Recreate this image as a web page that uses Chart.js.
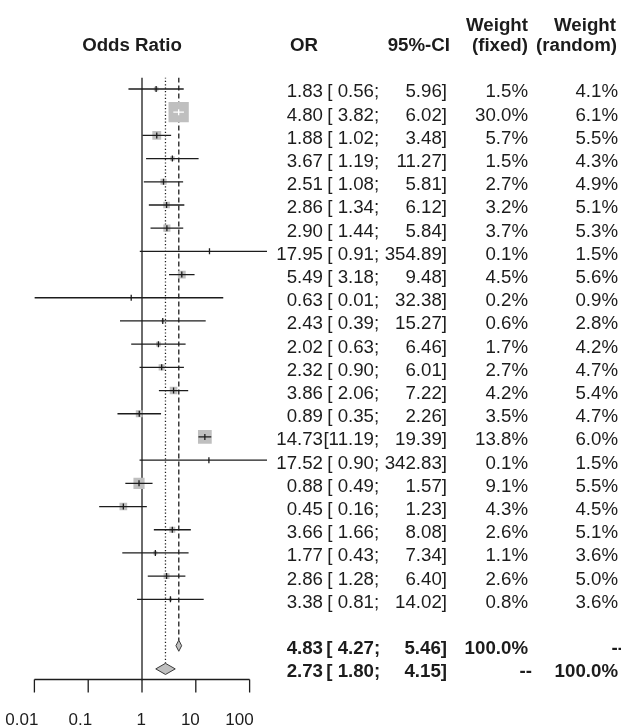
<!DOCTYPE html>
<html>
<head>
<meta charset="utf-8">
<script src="https://cdn.jsdelivr.net/npm/chart.js@4.4.1/dist/chart.umd.min.js"></script>
<style>
  html, body { margin: 0; padding: 0; background: #fff; }
</style>
</head>
<body>
<canvas id="forest" width="621" height="726"></canvas>
<script>
// one entry per study, top to bottom
const studyOR = [1.83, 4.80, 1.88, 3.67, 2.51, 2.86, 2.90, 17.95, 5.49, 0.63, 2.43, 2.02,
  2.32, 3.86, 0.89, 14.73, 17.52, 0.88, 0.45, 3.66, 1.77, 2.86, 3.38]
const ciLower = [0.56, 3.82, 1.02, 1.19, 1.08, 1.34, 1.44, 0.91, 3.18, 0.01, 0.39, 0.63,
  0.90, 2.06, 0.35, 11.19, 0.90, 0.49, 0.16, 1.66, 0.43, 1.28, 0.81]
const ciUpper = [5.96, 6.02, 3.48, 11.27, 5.81, 6.12, 5.84, 354.89, 9.48, 32.38, 15.27, 6.46,
  6.01, 7.22, 2.26, 19.39, 342.83, 1.57, 1.23, 8.08, 7.34, 6.40, 14.02]
const weightFixed = [1.5, 30.0, 5.7, 1.5, 2.7, 3.2, 3.7, 0.1, 4.5, 0.2, 0.6, 1.7,
  2.7, 4.2, 3.5, 13.8, 0.1, 9.1, 4.3, 2.6, 1.1, 2.6, 0.8]
const weightRandom = [4.1, 6.1, 5.5, 4.3, 4.9, 5.1, 5.3, 1.5, 5.6, 0.9, 2.8, 4.2,
  4.7, 5.4, 4.7, 6.0, 1.5, 5.5, 4.5, 5.1, 3.6, 5.0, 3.6]

// pooled estimates: [OR, lower, upper]
const fixedEffect = [4.83, 4.27, 5.46]
const randomEffect = [2.73, 1.80, 4.15]

const xTicks = [0.01, 0.1, 1, 10, 100]
const xTickLabels = ['0.01', '0.1', '1', '10', '100']

const ROW_FIXED = studyOR.length + 1
const ROW_RANDOM = studyOR.length + 2
const DIAMOND_H = 0.24
const FONT = '"Liberation Sans", Arial, Helvetica, sans-serif'
const FONT_SIZE = 18.7
const INK = '#1c1c1c'
const BOX = '#bfbfbf'

const boxSide = w => Math.sqrt(w) * 3.7

// CI line turns white when it sits well inside its own box
function ciColor(chart, i) {
  const x = chart.scales.x
  if (!x) return INK
  const c = x.getPixelForValue(studyOR[i])
  const half = boxSide(weightFixed[i]) / 2 - 1
  const inside = x.getPixelForValue(ciLower[i]) >= c - half && x.getPixelForValue(ciUpper[i]) <= c + half
  return inside ? '#ffffff' : INK
}

const fmt = v => v.toFixed(2)
const loWidth = Math.max(...ciLower.map(v => fmt(v).length))
const pct = v => v.toFixed(1) + '%'

const refLine = (value, toRow, dash) => ({
  type: 'line',
  data: [{ x: value, y: -0.5 }, { x: value, y: toRow }],
  borderColor: INK,
  borderWidth: 1.3,
  borderDash: dash,
  pointRadius: 0,
  order: 6
})

const diamond = (est, row) => ({
  type: 'line',
  data: [
    { x: est[1], y: row }, { x: est[0], y: row - DIAMOND_H },
    { x: est[2], y: row }, { x: est[0], y: row + DIAMOND_H }, { x: est[1], y: row }
  ],
  borderColor: '#3a3a3a',
  borderWidth: 1,
  backgroundColor: BOX,
  fill: 'shape',
  pointRadius: 0,
  order: 3
})

const ciLines = studyOR.map((or, i) => ({
  type: 'line',
  data: [{ x: ciLower[i], y: i }, { x: ciUpper[i], y: i }],
  borderColor: ctx => ciColor(ctx.chart, i),
  borderWidth: 1.3,
  pointRadius: 0,
  order: 2
}))

const datasets = [
  refLine(1, ROW_RANDOM + 0.5, []),
  refLine(randomEffect[0], ROW_RANDOM - DIAMOND_H, [1.2, 2.2]),
  refLine(fixedEffect[0], ROW_FIXED - DIAMOND_H, [5, 3]),
  {
    type: 'scatter',
    data: studyOR.map((or, i) => ({ x: or, y: i })),
    pointStyle: 'rect',
    pointRadius: weightFixed.map(w => boxSide(w) / Math.SQRT2),
    backgroundColor: BOX,
    borderWidth: 0,
    order: 4
  },
  diamond(fixedEffect, ROW_FIXED),
  diamond(randomEffect, ROW_RANDOM),
  ...ciLines,
  {
    type: 'scatter',
    data: studyOR.map((or, i) => ({ x: or, y: i })),
    pointStyle: 'line',
    pointRotation: 90,
    pointRadius: 3,
    borderWidth: 1.3,
    borderColor: ctx => ciColor(ctx.chart, ctx.dataIndex),
    order: 1
  }
]

const textPlugin = {
  id: 'forestText',
  afterDraw(chart) {
    const { ctx, chartArea } = chart
    const x = chart.scales.x
    const y = chart.scales.y
    const put = (str, px, py, align, bold, size) => {
      ctx.font = (bold ? 'bold ' : '') + (size || FONT_SIZE) + 'px ' + FONT
      ctx.textAlign = align
      ctx.fillText(str, px, py)
    }
    // OR, then "[lower;" and "upper]" as two right-aligned pieces
    const row = (vals, py, bold) => {
      put(fmt(vals[0]), 323, py, 'right', bold)
      put('[' + fmt(vals[1]).padStart(loWidth, ' '), 374, py, 'right', bold)
      put(';', 374, py, 'left', bold)
      put(fmt(vals[2]) + ']', 447, py, 'right', bold)
    }
    ctx.save()
    ctx.fillStyle = INK
    ctx.textBaseline = 'alphabetic'

    // column headers
    put('Odds Ratio', 132, 51, 'center', true)
    put('OR', 304, 51, 'center', true)
    put('95%-CI', 450, 51, 'right', true)
    put('Weight', 528, 31, 'right', true)
    put('(fixed)', 528, 51, 'right', true)
    put('Weight', 616, 31, 'right', true)
    put('(random)', 617, 51, 'right', true)

    // study rows
    studyOR.forEach((or, i) => {
      const py = y.getPixelForValue(i) + 8.5
      row([or, ciLower[i], ciUpper[i]], py, false)
      put(pct(weightFixed[i]), 528, py, 'right')
      put(pct(weightRandom[i]), 618, py, 'right')
    })

    // pooled rows
    let py = y.getPixelForValue(ROW_FIXED) + 8
    row(fixedEffect, py, true)
    put('100.0%', 528, py, 'right', true)
    put('--', 624, py, 'right', true)
    py = y.getPixelForValue(ROW_RANDOM) + 8
    row(randomEffect, py, true)
    put('--', 532, py, 'right', true)
    put('100.0%', 618, py, 'right', true)

    // x axis
    const ay = chartArea.bottom - 1
    ctx.strokeStyle = INK
    ctx.lineWidth = 1.3
    ctx.beginPath()
    ctx.moveTo(x.getPixelForValue(xTicks[0]), ay)
    ctx.lineTo(x.getPixelForValue(xTicks[xTicks.length - 1]), ay)
    xTicks.forEach(t => {
      const px = x.getPixelForValue(t)
      ctx.moveTo(px, ay)
      ctx.lineTo(px, ay + 13)
    })
    ctx.stroke()
    xTicks.forEach((t, k) => {
      put(xTickLabels[k], x.getPixelForValue(t) + 4, 725, 'right', false, 17)
    })
    ctx.restore()
  }
}

new Chart(document.getElementById('forest'), {
  type: 'scatter',
  data: { datasets },
  options: {
    responsive: false,
    animation: false,
    devicePixelRatio: 1,
    layout: { padding: { left: 34.4, right: 354, top: 77.4, bottom: 45.5 } },
    scales: {
      x: { type: 'logarithmic', min: 0.01, max: 210.5, display: false },
      y: { type: 'linear', reverse: true, min: -0.5, max: ROW_RANDOM + 0.5, display: false }
    },
    plugins: { legend: { display: false }, tooltip: { enabled: false } }
  },
  plugins: [textPlugin]
})
</script>
</body>
</html>
